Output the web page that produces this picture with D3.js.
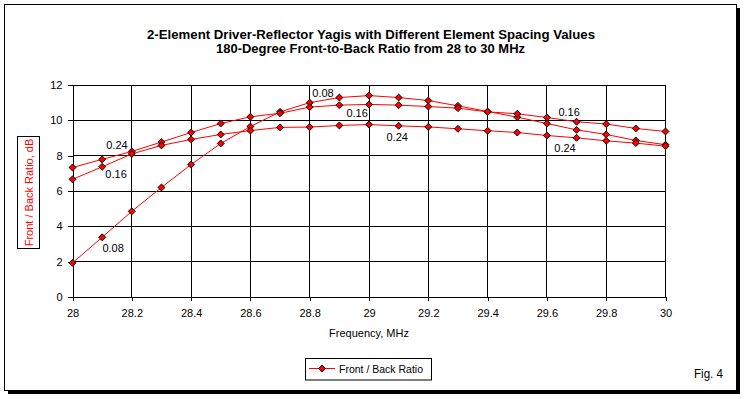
<!DOCTYPE html>
<html>
<head>
<meta charset="utf-8">
<script src="https://cdn.jsdelivr.net/npm/d3@7"></script>
<style>
  html, body { margin: 0; padding: 0; background: #fff; }
  svg { display: block; }
</style>
</head>
<body>
<svg id="chart" width="744" height="399"></svg>
<script>
// ---- data ----
const frequencies = [28.0, 28.1, 28.2, 28.3, 28.4, 28.5, 28.6, 28.7, 28.8, 28.9, 29.0,
                     29.1, 29.2, 29.3, 29.4, 29.5, 29.6, 29.7, 29.8, 29.9, 30.0];
const spacing008 = [1.93, 3.38, 4.85, 6.20, 7.50, 8.69, 9.65, 10.48, 11.00, 11.29, 11.40,
                    11.29, 11.12, 10.82, 10.50, 10.18, 9.82, 9.46, 9.20, 8.86, 8.62];
const spacing016 = [7.33, 7.79, 8.24, 8.77, 9.31, 9.82, 10.20, 10.40, 10.75, 10.86, 10.90,
                    10.86, 10.78, 10.69, 10.48, 10.37, 10.16, 9.92, 9.79, 9.54, 9.37];
const spacing024 = [6.66, 7.37, 8.10, 8.58, 8.92, 9.20, 9.42, 9.60, 9.62, 9.71, 9.76,
                    9.69, 9.63, 9.52, 9.41, 9.31, 9.14, 9.01, 8.84, 8.71, 8.54];
const seriesList = [spacing008, spacing016, spacing024];
const xTicks = [28, 28.2, 28.4, 28.6, 28.8, 29, 29.2, 29.4, 29.6, 29.8, 30];
const yTicks = [0, 2, 4, 6, 8, 10, 12];
const labelTexts = ["0.08", "0.24", "0.16", "0.08", "0.16", "0.24", "0.16", "0.24"];
const labelFreqs = [28.137, 28.150, 28.147, 28.845, 28.960, 29.095, 29.675, 29.661];
const labelValues = [2.80, 8.60, 6.99, 11.57, 10.41, 9.05, 10.47, 8.43];
const titleLines = ["2-Element Driver-Reflector Yagis with Different Element Spacing Values",
                    "180-Degree Front-to-Back Ratio from 28 to 30 MHz"];
const xTitle = "Frequency, MHz";
const yTitle = "Front / Back Ratio, dB";
const legendLabel = "Front / Back Ratio";
const figLabel = "Fig. 4";

// ---- drawing ----
const svg = d3.select("#chart");
const FONT = "'Liberation Sans', Arial, Helvetica, sans-serif";
const NARROW = "'Liberation Sans Narrow', 'Arial Narrow', 'Liberation Sans', Arial, sans-serif";
const RED = "#ff0000";

// frame with shadow
svg.append("rect").attr("x", 8).attr("y", 8).attr("width", 732).attr("height", 386).attr("fill", "#000");
svg.append("rect").attr("x", 4.5).attr("y", 4.5).attr("width", 732).attr("height", 386)
  .attr("fill", "#fff").attr("stroke", "#000").attr("stroke-width", 1);

const x = d3.scaleLinear().domain([28, 30]).range([72.5, 665.5]);
const y = d3.scaleLinear().domain([0, 12]).range([297, 85]);

// titles
const tl = svg.append("g").attr("font-family", NARROW).attr("font-weight", "bold")
  .attr("font-size", 12).attr("fill", "#000").attr("text-anchor", "middle");
tl.append("text").attr("x", 371).attr("y", 38.5).attr("textLength", 448)
  .attr("lengthAdjust", "spacingAndGlyphs").text(titleLines[0]);
tl.append("text").attr("x", 370.5).attr("y", 52.5).attr("textLength", 309)
  .attr("lengthAdjust", "spacingAndGlyphs").text(titleLines[1]);

// gridlines
const grid = svg.append("g").attr("stroke", "#000").attr("stroke-width", 1).attr("shape-rendering", "crispEdges");
grid.selectAll("line.h").data(yTicks.slice(1)).join("line")
  .attr("x1", x(28)).attr("x2", x(30)).attr("y1", d => y(d)).attr("y2", d => y(d));
grid.selectAll("line.v").data(xTicks.slice(1)).join("line")
  .attr("y1", y(0)).attr("y2", y(12)).attr("x1", d => x(d)).attr("x2", d => x(d));

// axes
const xAxis = svg.append("g").attr("transform", `translate(0,${y(0)})`)
  .call(d3.axisBottom(x).tickValues(xTicks).tickSize(4).tickSizeOuter(0).tickPadding(8)
        .tickFormat(d => String(d)));
const yAxis = svg.append("g").attr("transform", `translate(${x(28)},0)`)
  .call(d3.axisLeft(y).tickValues(yTicks).tickSize(5).tickSizeOuter(0).tickPadding(5)
        .tickFormat(d => String(d)));
[xAxis, yAxis].forEach(a => {
  a.attr("font-family", FONT).attr("font-size", 11).attr("shape-rendering", "crispEdges");
  a.selectAll("path, line").attr("stroke", "#000");
  a.selectAll("text").attr("fill", "#000");
});

// series
const line = d3.line().x((d, i) => x(frequencies[i])).y(d => y(d));
const sym = d3.symbol().type(d3.symbolSquare).size(24);
seriesList.forEach(vals => {
  svg.append("path").datum(vals).attr("d", line)
    .attr("fill", "none").attr("stroke", RED).attr("stroke-width", 1);
});
seriesList.forEach(vals => {
  svg.append("g").selectAll("path").data(vals).join("path")
    .attr("d", sym)
    .attr("transform", (d, i) => `translate(${x(frequencies[i])},${y(d)}) rotate(45)`)
    .attr("fill", RED).attr("stroke", "#000").attr("stroke-width", 0.9);
});

// data labels
svg.append("g").attr("font-family", FONT).attr("font-size", 11).attr("fill", "#000")
  .attr("text-anchor", "middle")
  .selectAll("text").data(labelTexts).join("text")
  .attr("x", (d, i) => x(labelFreqs[i])).attr("y", (d, i) => y(labelValues[i]) + 4)
  .text(d => d);

// x title
svg.append("text").attr("x", 369).attr("y", 336.5).attr("text-anchor", "middle")
  .attr("font-family", FONT).attr("font-size", 11).attr("fill", "#000").text(xTitle);

// y title box
svg.append("rect").attr("x", 17.5).attr("y", 136.5).attr("width", 22).attr("height", 112)
  .attr("fill", "#fff").attr("stroke", "#000").attr("stroke-width", 1);
svg.append("text").attr("transform", "translate(32.5,192.5) rotate(-90)")
  .attr("text-anchor", "middle").attr("font-family", FONT).attr("font-size", 11)
  .attr("fill", RED).text(yTitle);

// legend
const lg = svg.append("g");
lg.append("rect").attr("x", 305.5).attr("y", 358.5).attr("width", 126).attr("height", 21.5)
  .attr("fill", "#fff").attr("stroke", "#000").attr("stroke-width", 1);
lg.append("line").attr("x1", 309).attr("x2", 335).attr("y1", 368.5).attr("y2", 368.5)
  .attr("stroke", RED).attr("stroke-width", 1);
lg.append("path").attr("d", sym).attr("transform", "translate(322,368.5) rotate(45)")
  .attr("fill", RED).attr("stroke", "#000").attr("stroke-width", 0.9);
lg.append("text").attr("x", 339).attr("y", 372.5).attr("font-family", FONT).attr("font-size", 11)
  .attr("textLength", 84).attr("lengthAdjust", "spacingAndGlyphs")
  .attr("fill", "#000").text(legendLabel);

// fig label
svg.append("text").attr("x", 694).attr("y", 377.5).attr("font-family", NARROW).attr("font-size", 13)
  .attr("textLength", 29).attr("lengthAdjust", "spacingAndGlyphs")
  .attr("fill", "#000").text(figLabel);
</script>
</body>
</html>
